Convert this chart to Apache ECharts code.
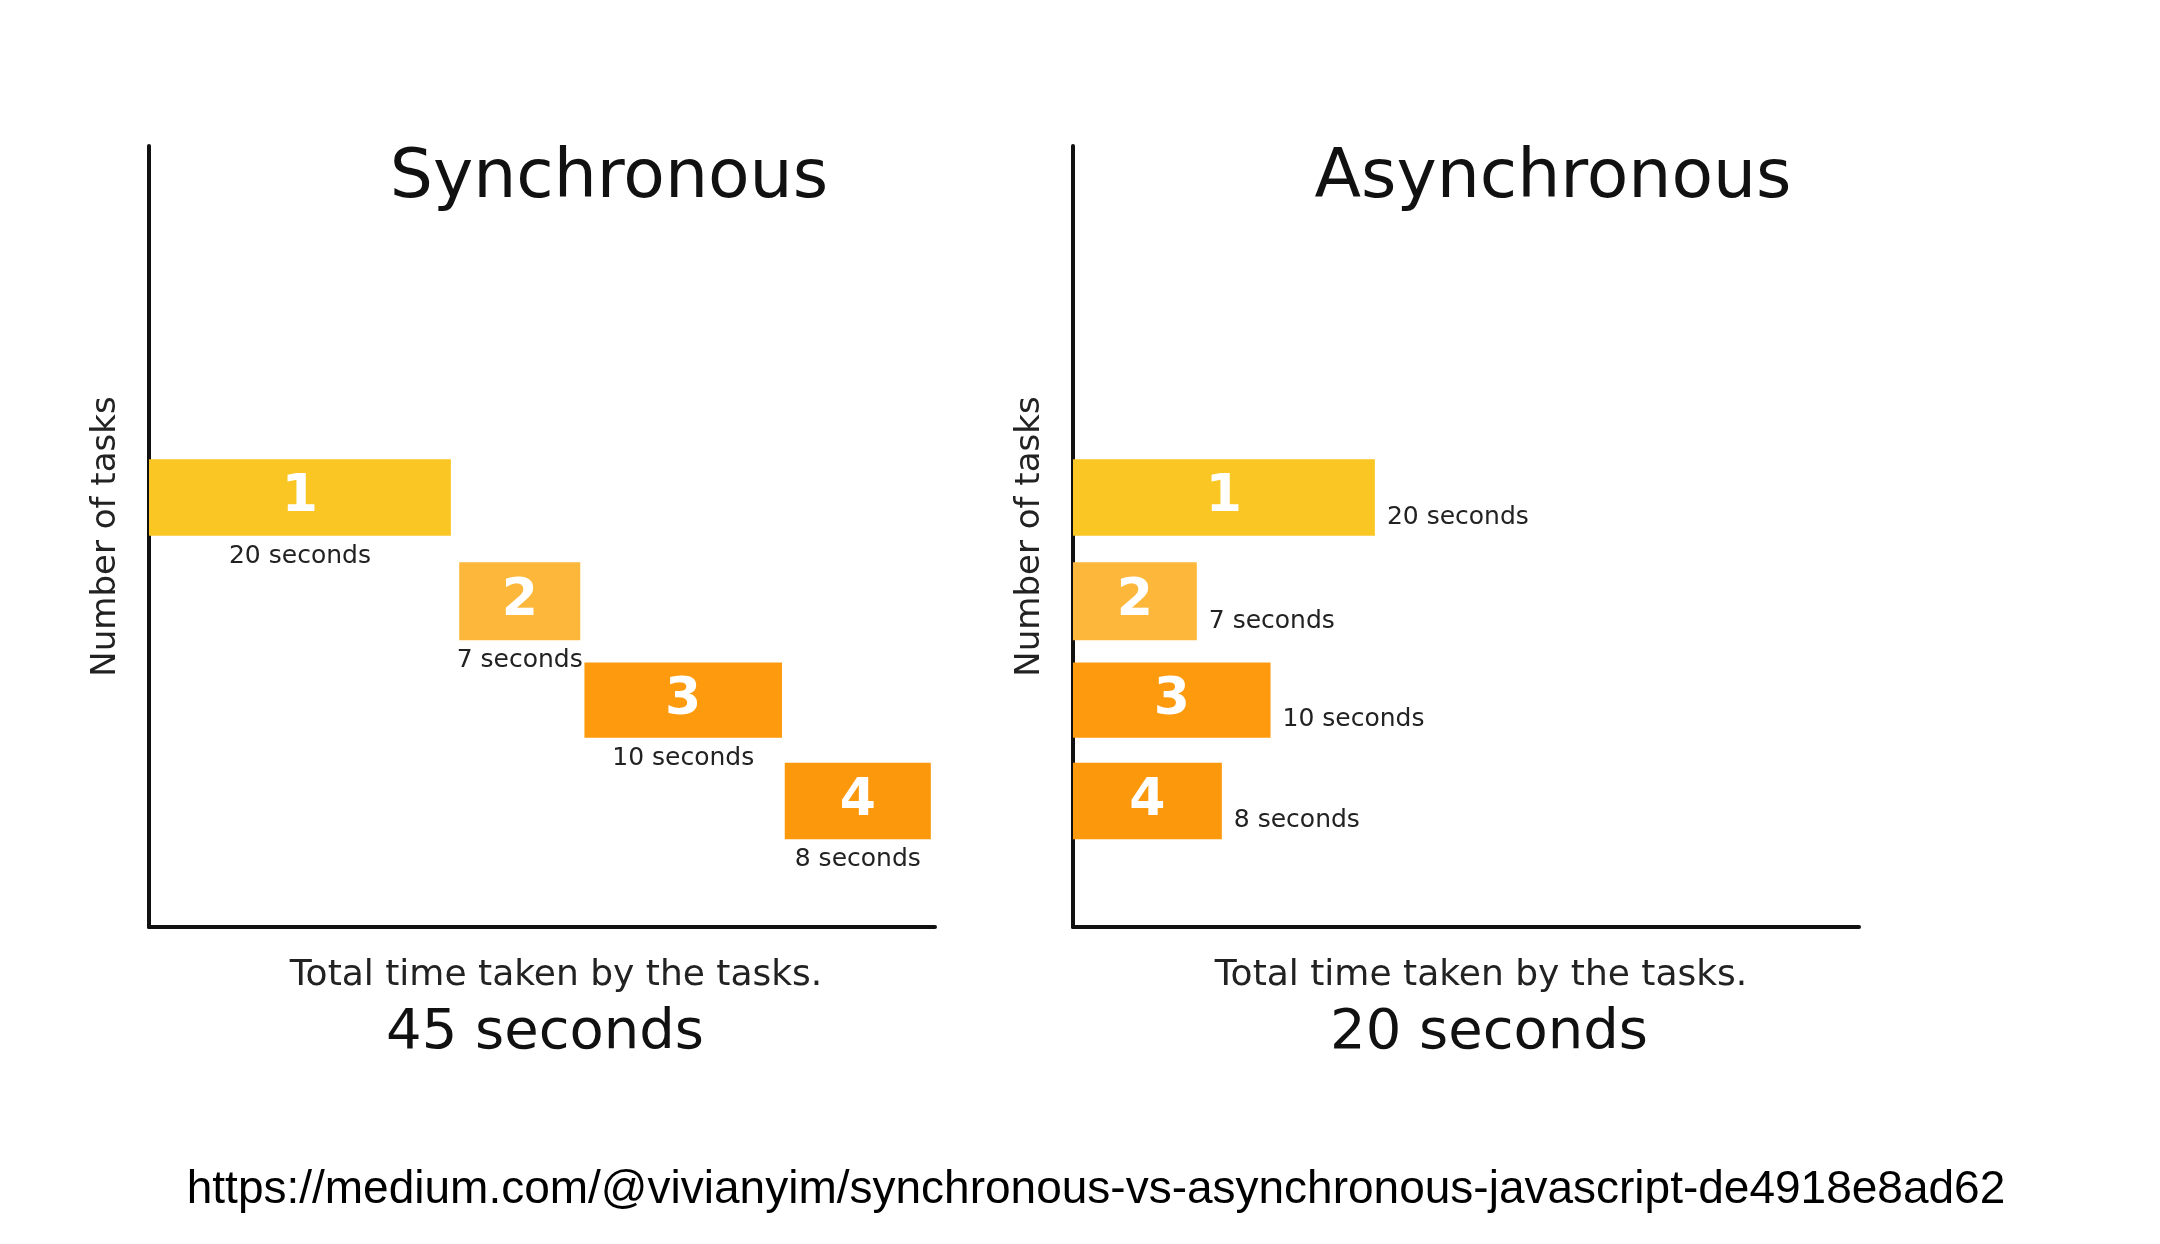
<!DOCTYPE html>
<html><head><meta charset="utf-8">
<script src="https://cdn.jsdelivr.net/npm/echarts@6/dist/echarts.min.js"></script>
<style>html,body{margin:0;padding:0;background:#fff}#c{width:2160px;height:1244px}</style>
</head><body><div id="c"></div>
<script>
const taskNames = ['1','2','3','4'];
const taskLabels = ['20 seconds','7 seconds','10 seconds','8 seconds'];
const colors = ['#F9C623','#FDB73A','#FD9A0E','#FC980C'];
// bars in axis units: [xStart, xEnd, yBottom, yTop]
const syncBars = [[0,217,281,336],[223,310,206,262],[313,455,136,190],[457,562,63,118]];
const asyncBars = [[0,217,281,336],[0,89,206,262],[0,142,136,190],[0,107,63,118]];
const xMax = 565, yMax = 561;

function render(mode){
  return function(params, api){
    const i = params.dataIndex;
    const p0 = api.coord([api.value(0), api.value(3)]);
    const p1 = api.coord([api.value(1), api.value(2)]);
    const w = p1[0]-p0[0], h = p1[1]-p0[1];
    const label = mode==='sync'
      ? {type:'text',style:{x:(p0[0]+p1[0])/2,y:p1[1]+8,text:taskLabels[i],fill:'#222',font:'25px "DejaVu Sans"',align:'center',verticalAlign:'top'}}
      : {type:'text',style:{x:p1[0]+12,y:p1[1]-6,text:taskLabels[i],fill:'#222',font:'25px "DejaVu Sans"',align:'left',verticalAlign:'bottom'}};
    return {type:'group',children:[
      {type:'rect',shape:{x:p0[0],y:p0[1],width:w,height:h},style:{fill:colors[i]}},
      {type:'text',style:{x:(p0[0]+p1[0])/2,y:(p0[1]+p1[1])/2,text:taskNames[i],fill:'#fff',font:'bold 52px "DejaVu Sans"',align:'center',verticalAlign:'middle'}},
      label
    ]};
  };
}
const axisX = i=>({type:'value',gridIndex:i,min:0,max:xMax,axisLine:{show:true,onZero:false,lineStyle:{color:'#111',width:4}},axisTick:{show:false},axisLabel:{show:false},splitLine:{show:false}});
const axisY = i=>({type:'value',gridIndex:i,min:0,max:yMax,name:'Number of tasks',nameLocation:'middle',nameGap:26,nameTextStyle:{fontSize:34,fontFamily:'DejaVu Sans',color:'#222'},axisLine:{show:true,onZero:false,lineStyle:{color:'#111',width:4}},axisTick:{show:false},axisLabel:{show:false},splitLine:{show:false}});
const chart = echarts.init(document.getElementById('c'));
chart.setOption({
  animation:false,
  grid:[{left:149,top:146,width:786,height:781},{left:1073,top:146,width:786,height:781}],
  xAxis:[axisX(0),axisX(1)], yAxis:[axisY(0),axisY(1)],
  title:[
    {text:'Synchronous',left:604,top:140,textAlign:'center',textStyle:{fontSize:68,fontWeight:'normal',fontFamily:'DejaVu Sans',color:'#111'}},
    {text:'Asynchronous',left:1548,top:140,textAlign:'center',textStyle:{fontSize:68,fontWeight:'normal',fontFamily:'DejaVu Sans',color:'#111'}},
    {text:'Total time taken by the tasks.',left:551,top:953,textAlign:'center',textStyle:{fontSize:36,fontWeight:'normal',fontFamily:'DejaVu Sans',color:'#222'}},
    {text:'45 seconds',left:540,top:1000,textAlign:'center',textStyle:{fontSize:56,fontWeight:'normal',fontFamily:'DejaVu Sans',color:'#111'}},
    {text:'Total time taken by the tasks.',left:1476,top:953,textAlign:'center',textStyle:{fontSize:36,fontWeight:'normal',fontFamily:'DejaVu Sans',color:'#222'}},
    {text:'20 seconds',left:1484,top:1000,textAlign:'center',textStyle:{fontSize:56,fontWeight:'normal',fontFamily:'DejaVu Sans',color:'#111'}},
    {text:'https://medium.com/@vivianyim/synchronous-vs-asynchronous-javascript-de4918e8ad62',left:1091,top:1162,textAlign:'center',textStyle:{fontSize:46,fontWeight:'normal',fontFamily:'Liberation Sans',color:'#000'}}
  ],
  series:[
    {type:'custom',xAxisIndex:0,yAxisIndex:0,renderItem:render('sync'),data:syncBars,clip:false},
    {type:'custom',xAxisIndex:1,yAxisIndex:1,renderItem:render('async'),data:asyncBars,clip:false}
  ]
});
</script></body></html>
